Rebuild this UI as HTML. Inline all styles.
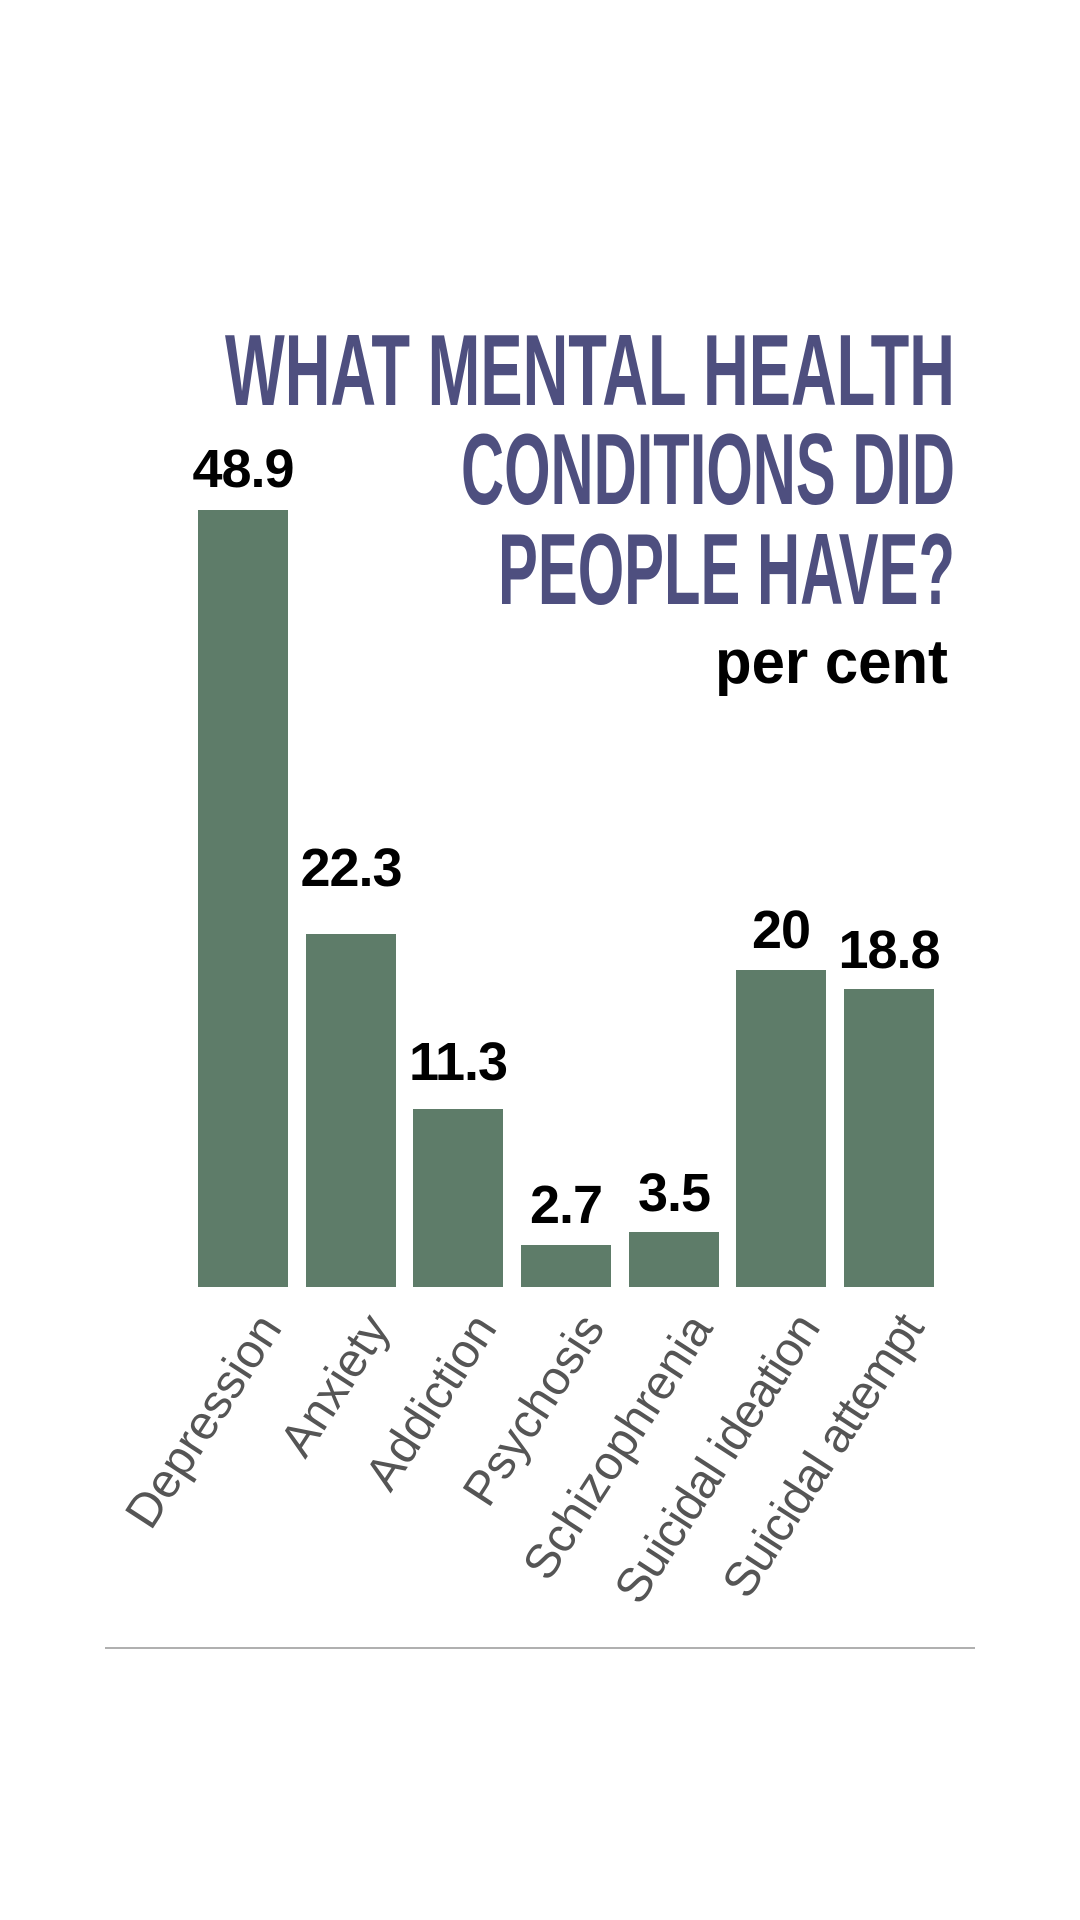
<!DOCTYPE html>
<html><head><meta charset="utf-8"><style>
html,body{margin:0;padding:0;background:#fff;}
svg{display:block}
</style></head><body>
<svg width="1080" height="1920" viewBox="0 0 1080 1920" xmlns="http://www.w3.org/2000/svg">
<rect width="1080" height="1920" fill="#fff"/>
<g font-family="Liberation Sans, sans-serif" font-weight="bold" fill="#4e4f7f" font-size="101" text-anchor="end">
<text x="955" y="405" textLength="730" lengthAdjust="spacingAndGlyphs">WHAT MENTAL HEALTH</text>
<text x="955" y="504" textLength="494" lengthAdjust="spacingAndGlyphs">CONDITIONS DID</text>
<text x="955" y="604" textLength="457" lengthAdjust="spacingAndGlyphs">PEOPLE HAVE?</text>
</g>
<text x="948" y="683" font-family="Liberation Sans, sans-serif" font-weight="bold" font-size="62" text-anchor="end" fill="#000" textLength="233" lengthAdjust="spacingAndGlyphs">per cent</text>
<g fill="#5e7c69">
<rect x="198" y="510" width="90" height="777"/>
<rect x="306" y="934" width="90" height="353"/>
<rect x="413" y="1109" width="90" height="178"/>
<rect x="521" y="1245" width="90" height="42"/>
<rect x="629" y="1232" width="90" height="55"/>
<rect x="736" y="970" width="90" height="317"/>
<rect x="844" y="989" width="90" height="298"/>
</g>
<g font-family="Liberation Sans, sans-serif" font-weight="bold" font-size="54" fill="#000" text-anchor="middle" letter-spacing="-1">
<text x="243" y="487">48.9</text>
<text x="351" y="886">22.3</text>
<text x="458" y="1080">11.3</text>
<text x="566" y="1223">2.7</text>
<text x="674" y="1211">3.5</text>
<text x="781" y="948">20</text>
<text x="889" y="968">18.8</text>
</g>
<g font-family="Liberation Sans, sans-serif" font-size="48" fill="#555" text-anchor="end">
<text transform="translate(283,1328) rotate(-57)">Depression</text>
<text transform="translate(391,1328) rotate(-57)">Anxiety</text>
<text transform="translate(498,1328) rotate(-57)">Addiction</text>
<text transform="translate(606,1328) rotate(-57)">Psychosis</text>
<text transform="translate(714,1328) rotate(-57)">Schizophrenia</text>
<text transform="translate(821,1328) rotate(-57)" letter-spacing="-1">Suicidal ideation</text>
<text transform="translate(925,1328) rotate(-57)" letter-spacing="-1">Suicidal attempt</text>
</g>
<rect x="105" y="1647" width="870" height="2" fill="#b0b0b0"/>
</svg>
</body></html>
